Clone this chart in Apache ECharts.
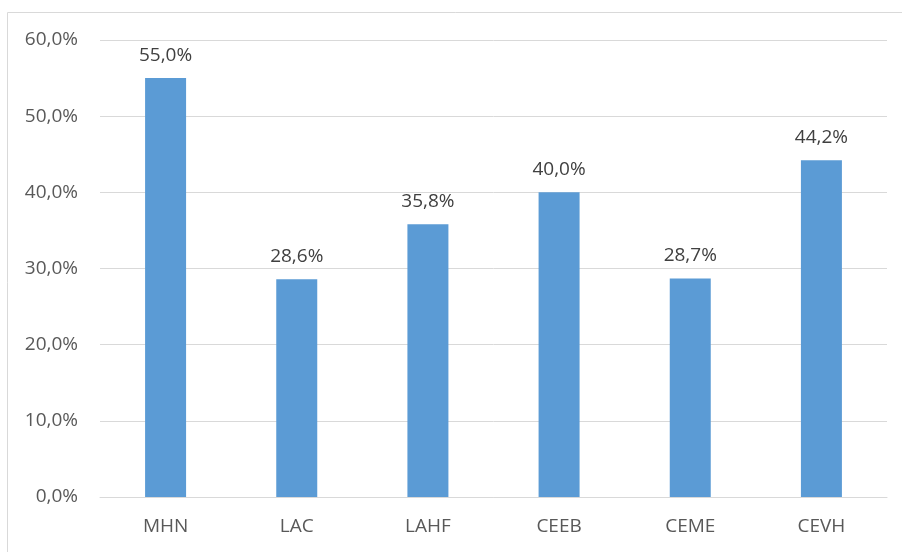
<!DOCTYPE html>
<html><head><meta charset="utf-8">
<script src="https://cdn.jsdelivr.net/npm/echarts@6/dist/echarts.min.js"></script>
<style>html,body{margin:0;padding:0;background:#fff}#c{width:902px;height:552px}</style>
</head><body><div id="c"></div>
<script>
const categories = ['MHN','LAC','LAHF','CEEB','CEME','CEVH'];
const values = [55.0, 28.6, 35.8, 40.0, 28.7, 44.2];
const yTicks = [0, 10, 20, 30, 40, 50, 60];

const fmt = v => v.toFixed(1).replace('.', ',') + '%';
const chart = echarts.init(document.getElementById('c'));
chart.setOption({
  animation: false,
  graphic: [{type:'rect', shape:{x:7.5,y:12.5,width:1000,height:1000}, style:{fill:'none', stroke:'#d9d9d9', lineWidth:1}, silent:true}],
  grid: {left:100, right:15, top:40, bottom:55, containLabel:false},
  xAxis: {type:'category', data:categories,
    axisLine:{lineStyle:{color:'#d9d9d9', width:1}}, axisTick:{show:false},
    axisLabel:{color:'#595959', fontSize:19, fontFamily:'Open Sans', margin:20}},
  yAxis: {type:'value', min:yTicks[0], max:yTicks[yTicks.length-1], interval:10,
    axisLine:{show:false}, axisTick:{show:false},
    splitLine:{lineStyle:{color:'#d9d9d9', width:1}},
    axisLabel:{color:'#595959', fontSize:19, fontFamily:'Open Sans', margin:22, formatter:fmt}},
  series: [{type:'bar', data:values, barWidth:41, itemStyle:{color:'#5B9BD5'},
    label:{show:true, position:'top', distance:13, color:'#404040', fontSize:19, fontFamily:'Open Sans', formatter:p=>fmt(p.value)}}]
});
</script></body></html>
